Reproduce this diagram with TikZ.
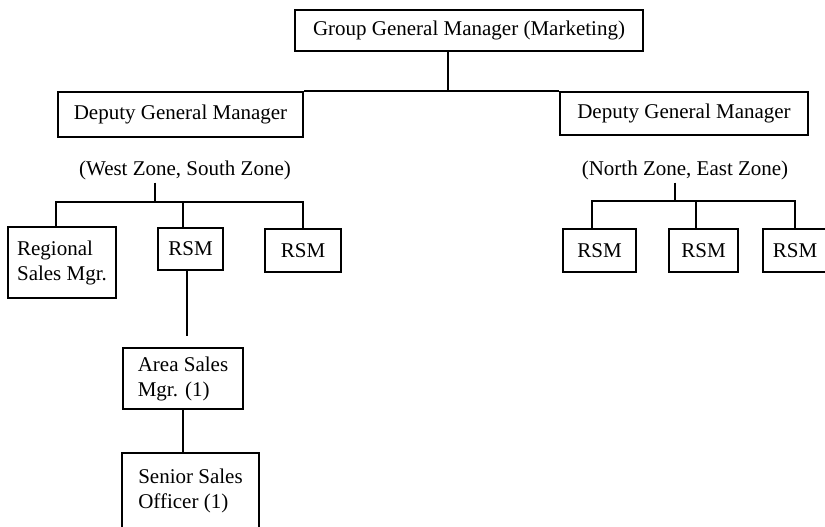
\documentclass[tikz,border=0pt]{standalone}
\usepackage{fontspec}
\setmainfont{Liberation Serif}

\begin{document}
\begin{tikzpicture}[x=0.5pt, y=-0.5pt, line width=1pt,
	every node/.style={font=\fontsize{10.5}{12.5}\selectfont},
	box/.style={draw, line width=1pt, align=left, inner sep=0pt},
	zone/.style={inner sep=1pt}]
	\clip (0,0) rectangle (825,526);
	\node[box, minimum width=174pt, minimum height=20.5pt] (ggm) at (469,30.5) {Group General Manager (Marketing)};
	\node[box, minimum width=122.5pt, minimum height=22.5pt] (dgmL) at (180.5,114.5) {Deputy General Manager};
	\node[box, minimum width=124pt, minimum height=21.5pt] (dgmR) at (684,113.5) {Deputy General Manager};
	\node[zone] (west) at (185,170) {(West Zone, South Zone)};
	\node[zone] (east) at (685,170) {(North Zone, East Zone)};
	\node[box, minimum width=54pt, minimum height=35.5pt] (rsmgr) at (62,262.5) {Regional\\Sales Mgr.};
	\node[box, minimum width=32.5pt, minimum height=21pt] (rsm1) at (190.5,249) {RSM};
	\node[box, minimum width=38pt, minimum height=21.5pt] (rsm2) at (303,250.5) {RSM};
	\node[box, minimum width=36.5pt, minimum height=21.5pt] (rsm3) at (599.5,250.5) {RSM};
	\node[box, minimum width=34.5pt, minimum height=21.5pt] (rsm4) at (703.5,250.5) {RSM};
	\node[box, minimum width=32pt, minimum height=21.5pt] (rsm5) at (795,250.5) {RSM};
	\node[box, minimum width=60pt, minimum height=30.5pt] (area) at (183,378.5) {Area Sales\\Mgr. (1)};
	\node[box, minimum width=68.5pt, minimum height=38pt] (senior) at (190.5,491) {Senior Sales\\Officer (1)};
	\coordinate (jtop) at (448,92);
	\draw (jtop |- ggm.south) -- (jtop);
	\draw (dgmL.north east) -- (dgmR.north west);
	\coordinate (busW) at (155,202);
	\draw (busW |- west.south) -- (busW);
	\draw (busW) -| ([xshift=-3pt]rsmgr.north);
	\draw (busW) -| ([xshift=-3.75pt]rsm1.north);
	\draw (busW) -| (rsm2.north);
	\coordinate (busE) at (675,201);
	\draw (busE |- east.south) -- (busE);
	\draw (busE) -| ([xshift=-3.75pt]rsm3.north);
	\draw (busE) -| ([xshift=-3.75pt]rsm4.north);
	\draw (busE) -| (rsm5.north);
	\draw[shorten >=5.5pt] ([xshift=-1.75pt]rsm1.south) -- ([xshift=-1.75pt]rsm1.south |- area.north);
	\draw (area.south) -- (area.south |- senior.north);
\end{tikzpicture}
\end{document}
